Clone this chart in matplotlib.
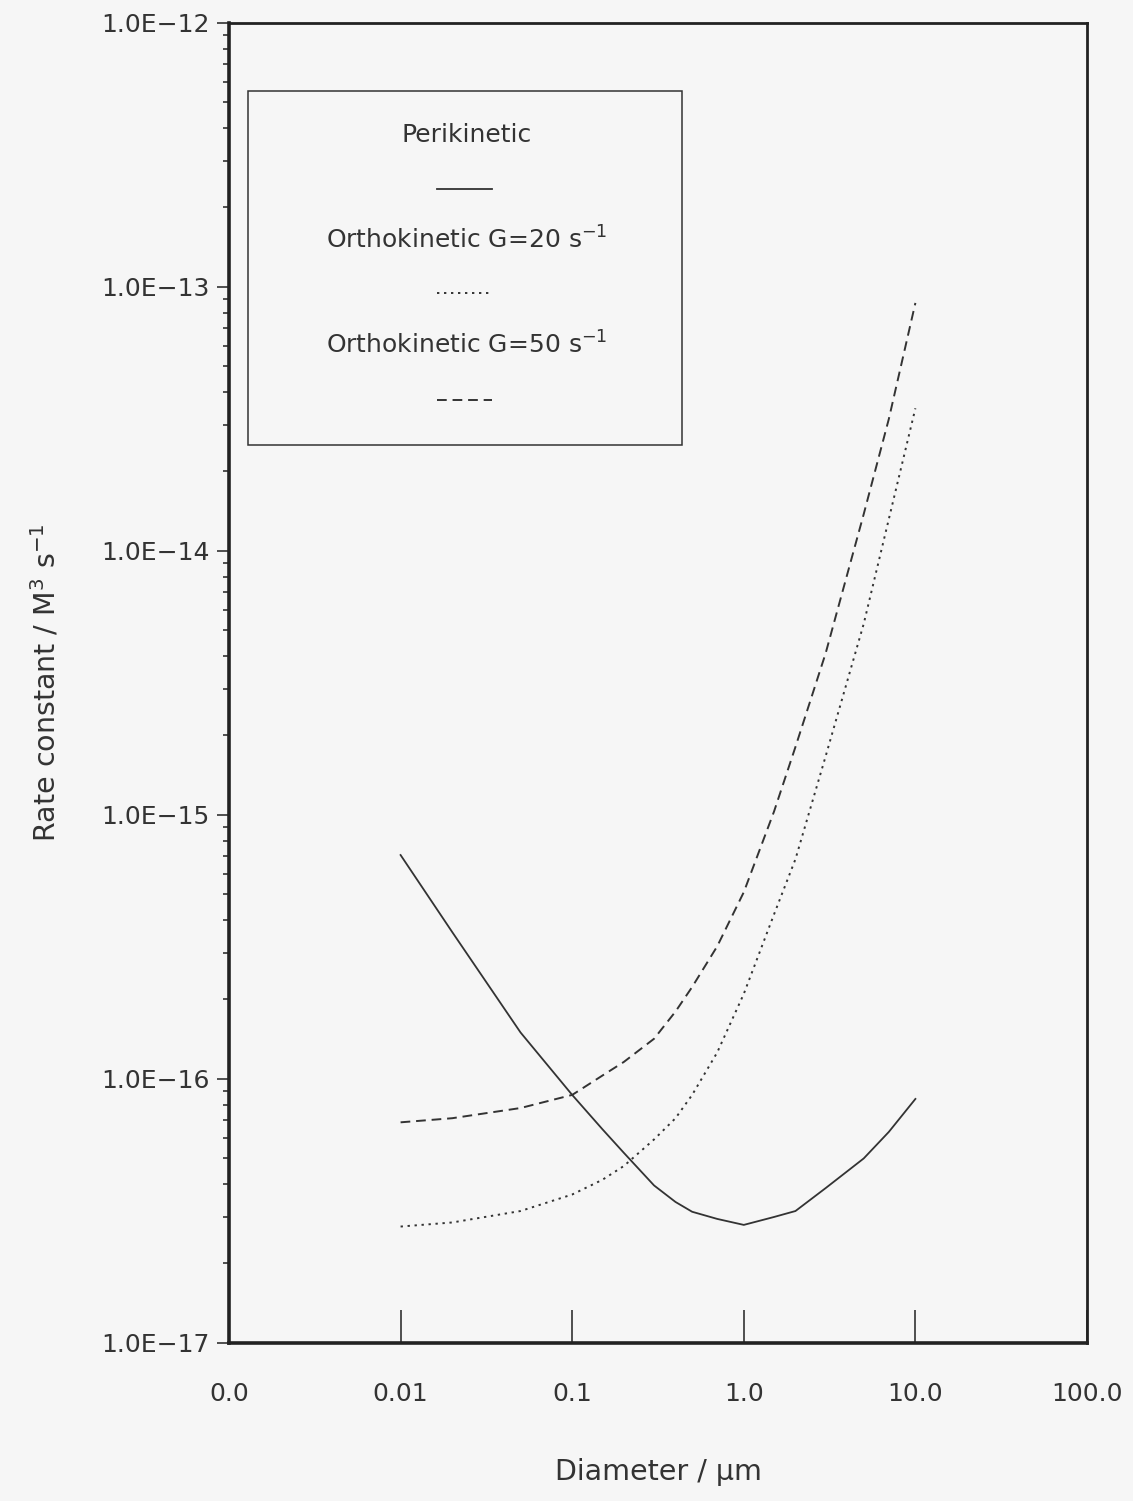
import matplotlib
matplotlib.use('Agg')
import matplotlib.pyplot as plt
from matplotlib.ticker import LogLocator, NullFormatter, FixedLocator, FixedFormatter
from matplotlib.patches import Rectangle
from matplotlib.lines import Line2D

# Data
diameter = [0.01, 0.02, 0.05, 0.1, 0.15, 0.2, 0.3, 0.4, 0.5, 0.7, 1.0, 1.5, 2.0, 3.0, 5.0, 7.0, 10.0]
perikinetic = [7.05e-16, 3.6e-16, 1.5e-16, 8.7e-17, 6.45e-17, 5.25e-17, 3.95e-17, 3.42e-17, 3.14e-17,
               2.95e-17, 2.8e-17, 3.0e-17, 3.16e-17, 3.86e-17, 5.0e-17, 6.3e-17, 8.4e-17]
ortho_g20 = [2.76e-17, 2.86e-17, 3.16e-17, 3.65e-17, 4.15e-17, 4.68e-17, 5.9e-17, 7.1e-17, 8.7e-17,
             1.26e-16, 2.1e-16, 4.2e-16, 6.8e-16, 1.67e-15, 5.3e-15, 1.32e-14, 3.47e-14]
ortho_g50 = [6.85e-17, 7.1e-17, 7.76e-17, 8.7e-17, 1.03e-16, 1.16e-16, 1.42e-16, 1.8e-16, 2.23e-16,
             3.18e-16, 5.1e-16, 1.03e-15, 1.81e-15, 4.1e-15, 1.38e-14, 3.16e-14, 8.7e-14]

x_ticks = [0.001, 0.01, 0.1, 1.0, 10.0, 100.0]
x_ticklabels = ['0.0', '0.01', '0.1', '1.0', '10.0', '100.0']
y_ticks = [1e-17, 1e-16, 1e-15, 1e-14, 1e-13, 1e-12]
y_ticklabels = ['1.0E\u221217', '1.0E\u221216', '1.0E\u221215', '1.0E\u221214', '1.0E\u221213', '1.0E\u221212']

legend_labels = ['Perikinetic', 'Orthokinetic G=20 s$^{-1}$', 'Orthokinetic G=50 s$^{-1}$']

ink = '#333333'
bg = '#f6f6f6'
plt.rcParams['font.family'] = ['DejaVu Sans']
plt.rcParams['mathtext.fontset'] = 'dejavusans'

fig = plt.figure(figsize=(11.33, 15.01), dpi=100, facecolor=bg)
ax = fig.add_axes([0.2021, 0.1053, 0.7573, 0.8794])
ax.set_facecolor(bg)

solid = dict(color=ink, lw=1.3, linestyle='-')
dotted = dict(color=ink, lw=1.4, linestyle=(0, (1.2, 2.4)))
dashed = dict(color=ink, lw=1.4, linestyle=(0, (5, 3)))

ax.plot(diameter, perikinetic, **solid)
ax.plot(diameter, ortho_g20, **dotted)
ax.plot(diameter, ortho_g50, **dashed)

ax.set_xscale('log')
ax.set_yscale('log')
ax.set_xlim(0.001, 100)
ax.set_ylim(1e-17, 1e-12)

ax.xaxis.set_major_locator(FixedLocator(x_ticks))
ax.xaxis.set_major_formatter(FixedFormatter(x_ticklabels))
ax.xaxis.set_minor_locator(FixedLocator([]))
ax.yaxis.set_major_locator(FixedLocator(y_ticks))
ax.yaxis.set_major_formatter(FixedFormatter(y_ticklabels))
ax.yaxis.set_minor_locator(LogLocator(base=10, subs=range(2, 10), numticks=20))
ax.yaxis.set_minor_formatter(NullFormatter())

ax.tick_params(axis='x', which='major', direction='in', length=24, width=1.2,
               color=ink, labelcolor=ink, labelsize=18, pad=28)
ax.tick_params(axis='y', which='major', direction='out', length=9, width=1.2,
               color=ink, labelcolor=ink, labelsize=18, pad=5)
ax.tick_params(axis='y', which='minor', direction='out', length=4.5, width=1.2, color=ink)

for side in ['left', 'bottom']:
    ax.spines[side].set_linewidth(2.6)
    ax.spines[side].set_color('#222222')
for side in ['right', 'top']:
    ax.spines[side].set_linewidth(2.0)
    ax.spines[side].set_color('#222222')

ax.set_xlabel('Diameter / \u00b5m', fontsize=20.5, color=ink)
ax.set_ylabel('Rate constant / M$^{3}$ s$^{-1}$', fontsize=20.5, color=ink)
ax.xaxis.set_label_coords(0.5, -0.087)
ax.yaxis.set_label_coords(-0.195, 0.5)

# Legend box: text centred above each line sample
ax.add_patch(Rectangle((0.0221, 0.6805), 0.5059, 0.2682, transform=ax.transAxes,
                       fill=False, edgecolor=ink, lw=1.1, zorder=5))
text_y = [0.9152, 0.8356, 0.7561]
line_y = [0.8742, 0.7955, 0.7144]
styles = [solid, dotted, dashed]
for label, ty, ly, st in zip(legend_labels, text_y, line_y, styles):
    ax.text(0.2774, ty, label, transform=ax.transAxes, ha='center', va='center',
            fontsize=18, color=ink)
    ax.add_line(Line2D([0.2424, 0.3065], [ly, ly], transform=ax.transAxes, **st))

fig.savefig('out.png', dpi=100, facecolor=bg)
